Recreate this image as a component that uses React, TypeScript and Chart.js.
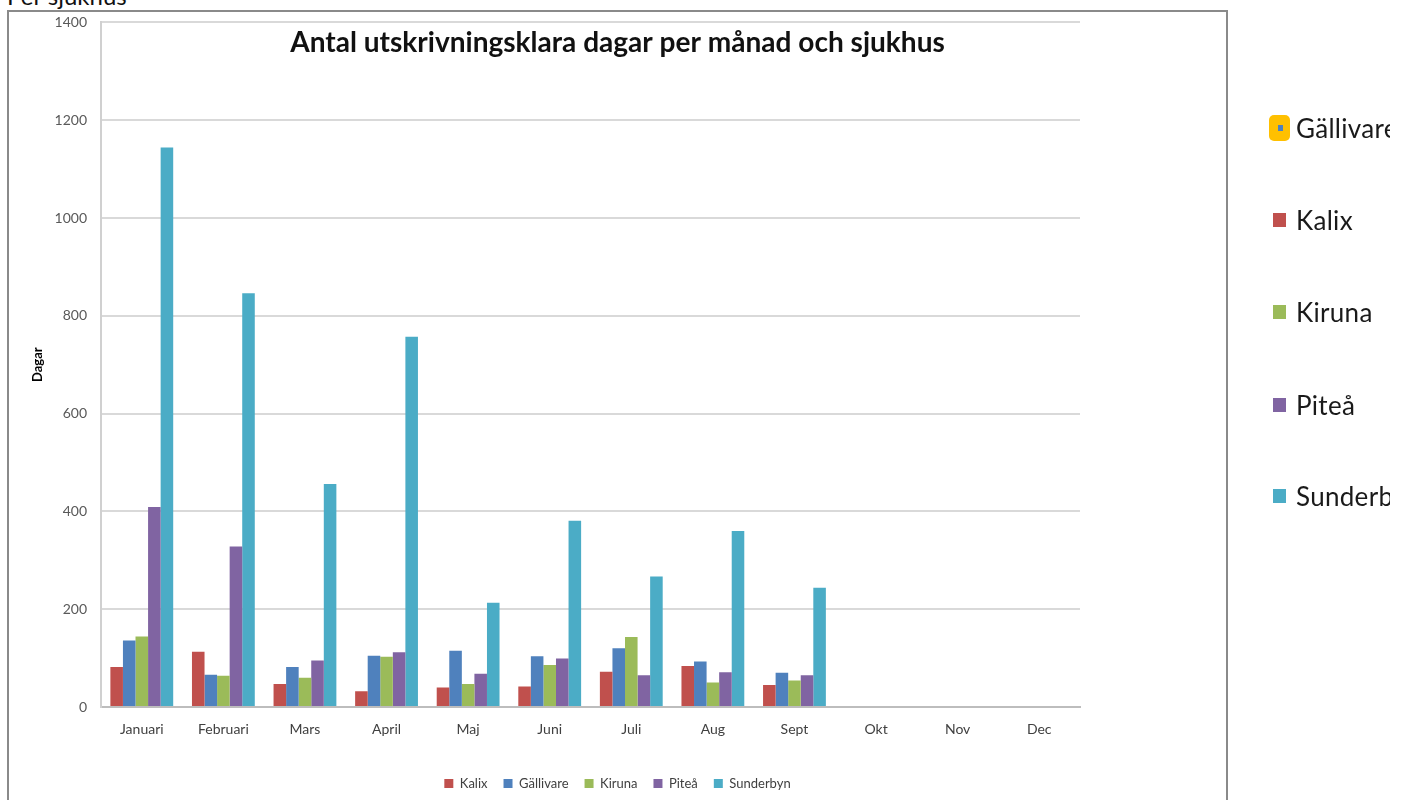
import React, { useEffect, useRef } from "react";
import { Chart, registerables } from "chart.js";

Chart.register(...registerables);

const months = ["Januari", "Februari", "Mars", "April", "Maj", "Juni", "Juli", "Aug", "Sept", "Okt", "Nov", "Dec"];
const seriesNames = ["Kalix", "Gällivare", "Kiruna", "Piteå", "Sunderbyn"];
const kalix = [82, 113, 47, 32, 40, 42, 72, 84, 45, null, null, null];
const gallivare = [136, 66, 82, 105, 115, 104, 120, 93, 70, null, null, null];
const kiruna = [144, 64, 60, 103, 47, 86, 143, 50, 54, null, null, null];
const pitea = [409, 328, 95, 112, 68, 99, 65, 71, 65, null, null, null];
const sunderbyn = [1144, 846, 456, 757, 213, 381, 267, 360, 244, null, null, null];
const seriesValues = [kalix, gallivare, kiruna, pitea, sunderbyn];
const seriesColors = ["#C0504D", "#4F81BD", "#9BBB59", "#8064A2", "#4BACC6"];
const yMin = 0;
const yMax = 1400;
const yStep = 200;
const chartTitle = "Antal utskrivningsklara dagar per månad och sjukhus";
const yAxisTitle = "Dagar";
const pageHeading = "Per sjukhus";
const sideLegendOrder = ["Gällivare", "Kalix", "Kiruna", "Piteå", "Sunderbyn"];

const FONT = "Lato, 'Noto Sans', sans-serif";

const frameAndTitle = {
  id: "frameAndTitle",
  afterDraw(chart: any) {
    const ctx = chart.ctx;
    ctx.save();
    ctx.strokeStyle = "#8a8a8a";
    ctx.lineWidth = 2;
    ctx.strokeRect(8, 11, 1219, 820);
    let size = 26;
    ctx.font = `bold ${size}px ${FONT}`;
    const w = ctx.measureText(chartTitle).width;
    size = size * 655 / w;
    ctx.font = `bold ${size}px ${FONT}`;
    ctx.fillStyle = "#111111";
    ctx.textAlign = "center";
    ctx.textBaseline = "alphabetic";
    ctx.fillText(chartTitle, 617.5, 52);
    ctx.restore();
  },
};

function ChartCanvas() {
  const ref = useRef<HTMLCanvasElement | null>(null);
  useEffect(() => {
    if (!ref.current) return;
    const chart = new Chart(ref.current, {
      type: "bar",
      data: {
        labels: months,
        datasets: seriesNames.map((name, i) => ({
          label: name,
          data: seriesValues[i],
          backgroundColor: seriesColors[i],
          borderWidth: 0,
          barPercentage: 1,
          categoryPercentage: 0.77,
        })),
      },
      options: {
        responsive: false,
        animation: false,
        maintainAspectRatio: false,
        layout: { padding: { left: 9, right: 180, top: 21, bottom: 0 } },
        plugins: {
          title: { display: false },
          tooltip: { enabled: false },
          legend: {
            display: true,
            position: "bottom",
            labels: {
              boxWidth: 9,
              boxHeight: 9,
              padding: 16,
              color: "#404040",
              font: { family: FONT, size: 13 },
            },
          },
        },
        scales: {
          x: {
            grid: { display: false, drawTicks: false },
            border: { display: true, color: "#bdbdbd", width: 2 },
            ticks: { color: "#404040", font: { family: FONT, size: 14 }, padding: 14, maxRotation: 0 },
            afterFit: (s: any) => { s.height = 54; },
          },
          y: {
            min: yMin,
            max: yMax,
            ticks: {
              stepSize: yStep,
              color: "#595959",
              font: { family: FONT, size: 14 },
              padding: 14,
              callback: (v: any) => String(v),
            },
            grid: { color: "#d9d9d9", lineWidth: 2, drawTicks: false },
            border: { display: true, color: "#d0d0d0", width: 2 },
            title: {
              display: true,
              text: yAxisTitle,
              color: "#000000",
              font: { family: FONT, size: 13, weight: "bold" },
              padding: { top: 21, bottom: 0 },
            },
            afterFit: (s: any) => { s.width = 92; },
          },
          y2: {
            type: "linear",
            position: "right",
            display: true,
            grid: { display: false, drawTicks: false },
            border: { display: false },
            ticks: { display: false },
            afterFit: (s: any) => { s.width = 146; },
          },
        },
      },
      plugins: [frameAndTitle],
    } as any);
    return () => chart.destroy();
  }, []);
  return (
    <canvas
      ref={ref}
      width={1406}
      height={800}
      style={{ position: "absolute", left: 0, top: 0, width: 1406, height: 800 }}
    />
  );
}

export default function App() {
  const itemTops = [128, 220, 312, 405, 496];
  return (
    <div style={{ position: "absolute", left: 0, top: 0, width: 1406, height: 800, overflow: "hidden", background: "#fff" }}>
      <div
        style={{
          position: "absolute",
          left: 7,
          top: -16,
          fontFamily: FONT,
          fontSize: 24,
          lineHeight: "24px",
          color: "#111",
          whiteSpace: "nowrap",
        }}
      >
        {pageHeading}
      </div>
      <ChartCanvas />
      <div style={{ position: "absolute", left: 1266, top: 0, width: 124, height: 800, overflow: "hidden" }}>
        {sideLegendOrder.map((name, i) => {
          const color = seriesColors[seriesNames.indexOf(name)];
          const cy = itemTops[i];
          const highlighted = i === 0;
          return (
            <div key={name}>
              {highlighted ? (
                <div
                  style={{
                    position: "absolute",
                    left: 3,
                    top: cy - 13,
                    width: 21,
                    height: 26,
                    borderRadius: 5,
                    background: "#FFC000",
                  }}
                >
                  <div style={{ position: "absolute", left: 9, top: 10, width: 5, height: 6, background: color }} />
                </div>
              ) : (
                <div style={{ position: "absolute", left: 7, top: cy - 7, width: 13, height: 14, background: color }} />
              )}
              <div
                style={{
                  position: "absolute",
                  left: 30,
                  top: cy - 17,
                  height: 34,
                  lineHeight: "34px",
                  fontFamily: FONT,
                  fontSize: 26,
                  color: "#1a1a1a",
                  whiteSpace: "nowrap",
                  letterSpacing: "0.3px",
                }}
              >
                {name}
              </div>
            </div>
          );
        })}
      </div>
    </div>
  );
}
